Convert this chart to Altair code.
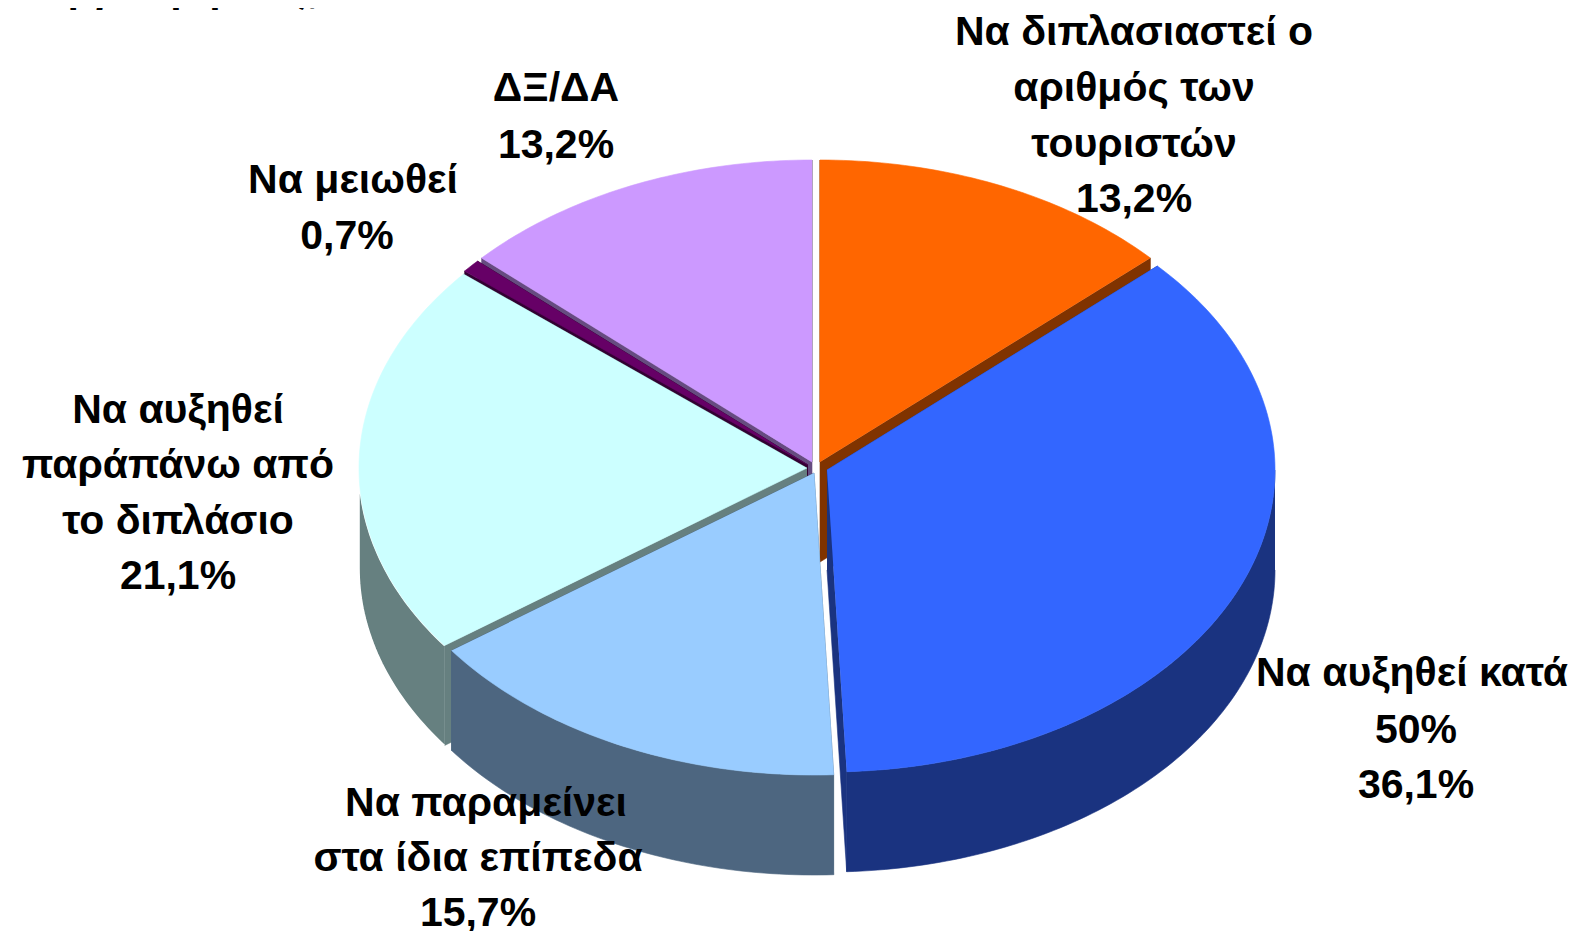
import math
import altair as alt
import pandas as pd

# Slices, in clockwise order from 12 o'clock
shares = [13.2, 36.1, 15.7, 21.1, 0.7, 13.2]
top_colors = ["#FF6600", "#3366FF", "#99CCFF", "#CCFFFF", "#660066", "#CC99FF"]
wall_colors = ["#803300", "#1A3380", "#4D6680", "#668080", "#330033", "#664C80"]
# Each slice is pulled slightly away from the centre of the pie
centre_x = [820, 827, 814, 807, 808, 812]
centre_y = [462, 470, 473, 468, 465, 462]
RX, RY, DEPTH = 448, 302, 100
# Drawing order: back slices first, then those in front
draw_order = [5, 4, 0, 3, 2, 1]

label_lines = ["Να διπλασιαστεί ο", "αριθμός των", "τουριστών", "13,2%",
               "ΔΞ/ΔΑ", "13,2%",
               "Να μειωθεί", "0,7%",
               "Να αυξηθεί", "παράπάνω από", "το διπλάσιο", "21,1%",
               "Να αυξηθεί κατά", "50%", "36,1%",
               "Να παραμείνει", "στα ίδια επίπεδα", "15,7%"]
label_x = [1134, 1134, 1134, 1134, 556, 556, 353, 347, 178, 178, 178, 178,
           1412, 1416, 1416, 486, 478, 478]
label_y = [33, 89, 145, 200, 89, 146, 181, 237, 411, 466, 522, 577,
           674, 731, 786, 804, 859, 914]
heading_text = ["είναι η γνώμη σας;"]
heading_x = [320]
heading_y = [2]

x_scale = alt.Scale(domain=[8, 1568], range=[0, 1560], nice=False, zero=False)
y_scale = alt.Scale(domain=[8, 931], range=[0, 923], nice=False, zero=False)


def arc_points(cx, cy, a0, a1, dy=0.0):
    n = max(2, int(abs(a1 - a0)) + 2)
    pts = []
    for k in range(n):
        a = math.radians(a0 + (a1 - a0) * k / (n - 1))
        pts.append((cx + RX * math.sin(a), cy - RY * math.cos(a) + dy))
    return pts


def poly(points, fill, stroke=None, width=0.6):
    df = pd.DataFrame([{"px": p[0], "py": p[1], "i": i} for i, p in enumerate(points)])
    return alt.Chart(df).mark_line(
        fill=fill, stroke=stroke or fill, strokeWidth=width, clip=False
    ).encode(
        x=alt.X("px:Q", scale=x_scale, axis=None),
        y=alt.Y("py:Q", scale=y_scale, axis=None),
        order=alt.Order("i:Q"),
    )


starts, run = [], 0.0
for s in shares:
    starts.append(run)
    run += s * 3.6
ends = starts[1:] + [360.0]

layers = []
for idx in draw_order:
    cx, cy = centre_x[idx], centre_y[idx]
    a0, a1 = starts[idx], ends[idx]
    wall = wall_colors[idx]
    # the two straight cut faces
    for a in (a0, a1):
        rim = arc_points(cx, cy, a, a)[0]
        layers.append(poly([(cx, cy), rim, (rim[0], rim[1] + DEPTH), (cx, cy + DEPTH)], wall))
    # the curved outer wall: only the part facing the viewer
    w0, w1 = max(a0, 90.0), min(a1, 270.0)
    if w1 > w0:
        upper = arc_points(cx, cy, w0, w1)
        lower = arc_points(cx, cy, w0, w1, DEPTH)
        edge = "#FFFFFF" if idx == 3 else None
        layers.append(poly(upper + lower[::-1], wall, stroke=edge, width=1.6 if edge else 0.6))
    # the top face
    layers.append(poly([(cx, cy)] + arc_points(cx, cy, a0, a1), top_colors[idx]))

labels_df = pd.DataFrame({"text": label_lines + heading_text,
                          "lx": label_x + heading_x,
                          "ly": label_y + heading_y})
labels = alt.Chart(labels_df.iloc[:len(label_lines)]).mark_text(
    font="Liberation Sans", fontWeight="bold", fontSize=41, color="#000000",
    align="center", baseline="middle", clip=False
).encode(
    x=alt.X("lx:Q", scale=x_scale, axis=None),
    y=alt.Y("ly:Q", scale=y_scale, axis=None),
    text="text:N",
)
heading = alt.Chart(labels_df.iloc[len(label_lines):]).mark_text(
    font="Liberation Sans", fontWeight="bold", fontSize=41, color="#000000",
    align="right", baseline="alphabetic", clip=False
).encode(
    x=alt.X("lx:Q", scale=x_scale, axis=None),
    y=alt.Y("ly:Q", scale=y_scale, axis=None),
    text="text:N",
)

chart = alt.layer(*layers, labels, heading).properties(
    width=1560, height=923, padding=0, background="#FFFFFF",
    autosize=alt.AutoSizeParams(type="none"),
).configure_view(stroke=None)

chart.save("out.html", embed_options={"renderer": "svg", "actions": False})
